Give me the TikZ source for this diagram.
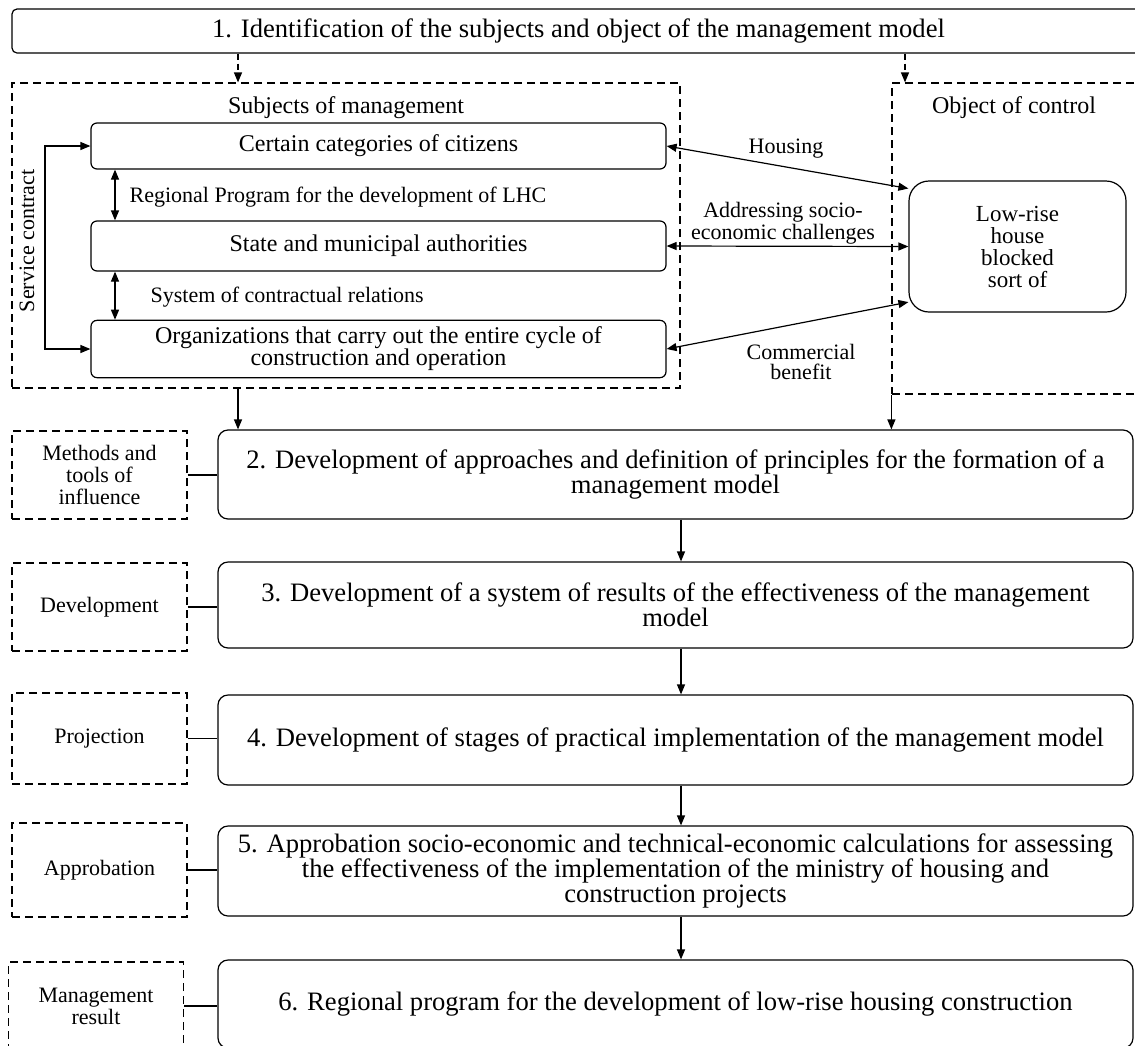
\documentclass[tikz,border=0pt]{standalone}
\usepackage{fontspec}
\setmainfont{Liberation Serif}
\usepackage{tikz}
\usetikzlibrary{arrows.meta}

\newcommand{\bigtxt}{\fontsize{12}{12.5}\selectfont}
\newcommand{\stagetxt}{\fontsize{13.3}{12.6}\selectfont}
\newcommand{\smalltxt}{\fontsize{11}{11}\selectfont}

\begin{document}
\begin{tikzpicture}[
        x=0.5pt, y=-0.5pt,
        line width=0.6pt,
        >={Triangle[length=5pt,width=4pt]},
        stagebox/.style={draw, rounded corners=5pt, minimum width=457.5pt, align=center, font=\stagetxt},
        sidebox/.style={draw, dash pattern=on 4pt off 2.5pt, minimum width=87.5pt, align=center, font=\smalltxt},
        areabox/.style={draw, dash pattern=on 4pt off 2.5pt},
        subbox/.style={draw, rounded corners=3pt, minimum width=287.5pt, align=center, font=\bigtxt},
        lbl/.style={align=center, font=\smalltxt, inner sep=0pt},
        dashline/.style={dash pattern=on 3pt off 2pt}
    ]
    \useasboundingbox (0,0) rectangle (1135,1045);
    \clip (0,0) rectangle (1135,1045);

    \coordinate (colL) at (238,0);
    \coordinate (colR) at (905,0);
    \coordinate (colM) at (681,0);
    \coordinate (colV) at (115,0);
    \coordinate (colS) at (45,0);

    \node[draw, rounded corners=2.5pt, minimum width=566.5pt, minimum height=22pt, font=\stagetxt] (ident) at (578.5,31)
        {1. Identification of the subjects and object of the management model};

    \node[areabox, minimum width=334pt, minimum height=152.5pt] (subjarea) at (346,235.5) {};
    \node[lbl, font=\bigtxt] (subjtitle) at (346,108) {Subjects of management};
    \node[areabox, minimum width=129pt, minimum height=155.5pt] (objarea) at (1021,238.5) {};
    \node[lbl, font=\bigtxt] (objtitle) at (1014,108) {Object of control};

    \node[subbox, minimum height=23pt] (citizens) at (378.5,146) {Certain categories of citizens};
    \node[subbox, minimum height=25pt] (authorities) at (378.5,246) {State and municipal authorities};
    \node[subbox, minimum height=26pt, font=\fontsize{12}{11}\selectfont] (organizations) at (378.5,349)
        {Organizations that carry out the entire cycle of\\construction and operation};
    \node[draw, rounded corners=10pt, minimum width=108.5pt, minimum height=65.5pt, align=center,
        font=\fontsize{11.5}{11}\selectfont] (lowrise) at (1017.5,246.5) {Low-rise\\house\\blocked\\sort of};

    \node[lbl, anchor=west] (regprog) at (129,197) {Regional Program for the development of LHC};
    \node[lbl, anchor=west] (contrel) at (150,297) {System of contractual relations};
    \node[lbl, rotate=90] (servcon) at (27,241) {Service contract};
    \node[lbl] (housing) at (786,149) {Housing};
    \node[lbl, font=\fontsize{11}{10}\selectfont] (address) at (783,223) {Addressing socio-\\economic challenges};
    \node[lbl, font=\fontsize{11}{10}\selectfont] (commerce) at (801,362) {Commercial\\benefit};

    \node[stagebox, minimum height=44.5pt] (stage2) at (675.5,474.5)
        {2. Development of approaches and definition of principles for the formation of a\\management model};
    \node[stagebox, minimum height=43pt] (stage3) at (675.5,605)
        {3. Development of a system of results of the effectiveness of the management\\model};
    \node[stagebox, minimum height=45pt] (stage4) at (675.5,740)
        {4. Development of stages of practical implementation of the management model};
    \node[stagebox, minimum height=45pt] (stage5) at (675.5,871)
        {5. Approbation socio-economic and technical-economic calculations for assessing\\the effectiveness of the implementation of the ministry of housing and\\construction projects};
    \node[stagebox, minimum height=44pt] (stage6) at (675.5,1004)
        {6. Regional program for the development of low-rise housing construction};

    \node[sidebox, minimum height=44pt] (side2) at (99.5,475) {Methods and\\tools of\\influence};
    \node[sidebox, minimum height=44pt] (side3) at (99.5,607) {Development};
    \node[sidebox, minimum height=45.5pt] (side4) at (99.5,738.5) {Projection};
    \node[sidebox, minimum height=47pt] (side5) at (99.5,870) {Approbation};
    \node[sidebox, minimum height=44pt] (side6) at (96,1006) {Management\\result};

    \draw[->, dashline] (ident.south -| colL) -- (subjarea.north -| colL);
    \draw[->, dashline] (ident.south -| colR) -- (objarea.north -| colR);
    \draw[<->] (citizens.south -| colV) -- (authorities.north -| colV);
    \draw[<->] (authorities.south -| colV) -- (organizations.north -| colV);
    \draw[<->] (citizens.west) -- (citizens.west -| colS) -- (organizations.west -| colS) -- (organizations.west);
    \draw[<->] (citizens.east) -- (lowrise.152);
    \draw[<->] (authorities.east) -- (lowrise.west);
    \draw[<->] (organizations.east) -- (lowrise.207);
    \draw[->] (subjarea.south -| colL) -- (stage2.north -| colL);
    \draw[->] (objarea.south west) -- (objarea.south west |- stage2.north);
    \foreach \a/\b in {2/3,3/4,4/5,5/6}
        \draw[->] (stage\a.south -| colM) -- (stage\b.north -| colM);
    \foreach \i in {2,...,6}
        \draw (side\i.east) -- (side\i.east -| stage\i.west);
\end{tikzpicture}
\end{document}
